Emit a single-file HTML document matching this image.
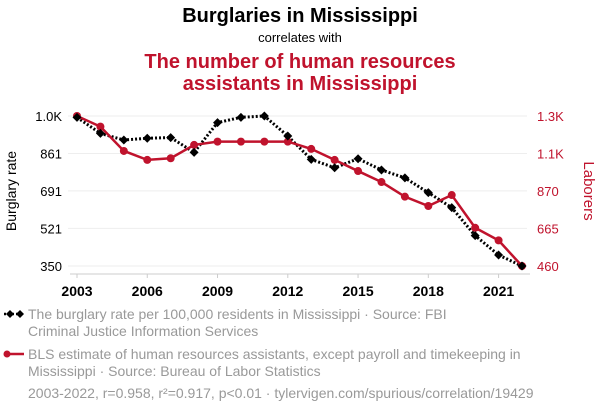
<!DOCTYPE html>
<html><head><meta charset="utf-8"><style>
body{margin:0;background:#fff;font-family:"Liberation Sans",sans-serif}
svg text{font-family:"Liberation Sans",sans-serif}
</style></head><body>
<svg width="600" height="414">
<text x="300" y="22" text-anchor="middle" font-size="20" font-weight="bold" fill="#000">Burglaries in Mississippi</text>
<text x="300" y="42" text-anchor="middle" font-size="13" fill="#000">correlates with</text>
<text x="300" y="68" text-anchor="middle" font-size="20" font-weight="bold" fill="#c0132d">The number of human resources</text>
<text x="300" y="90" text-anchor="middle" font-size="20" font-weight="bold" fill="#c0132d">assistants in Mississippi</text>
<g id="grid"></g><g id="axes"></g><g id="series"></g>
<text transform="translate(16,191) rotate(-90)" text-anchor="middle" font-size="14" fill="#000">Burglary rate</text>
<text transform="translate(584,191) rotate(90)" text-anchor="middle" font-size="15" fill="#c0132d">Laborers</text>
<g>
<line x1="4" y1="314" x2="24" y2="314" stroke="#000" stroke-width="2.5" stroke-dasharray="2,2"/>
<path d="M6 314 l4 -4 4 4 -4 4z" fill="#000"/><path d="M20 310 l4 4 -4 4 -4 -4z" fill="#000"/>
<text x="28" y="319" font-size="14" fill="#999">The burglary rate per 100,000 residents in Mississippi · Source: FBI</text>
<text x="28" y="336" font-size="14" fill="#999">Criminal Justice Information Services</text></g>
<g>
<line x1="4" y1="354" x2="24" y2="354" stroke="#c0132d" stroke-width="2.5"/>
<circle cx="7" cy="354" r="3.5" fill="#c0132d"/>
<text x="28" y="359" font-size="14" fill="#999">BLS estimate of human resources assistants, except payroll and timekeeping in</text>
<text x="28" y="376" font-size="14" fill="#999">Mississippi · Source: Bureau of Labor Statistics</text></g>
<text x="28" y="398" font-size="14" fill="#999">2003-2022, r=0.958, r²=0.917, p&lt;0.01 · tylervigen.com/spurious/correlation/19429</text>
</svg>
<script>
const years=[2003,2004,2005,2006,2007,2008,2009,2010,2011,2012,2013,2014,2015,2016,2017,2018,2019,2020,2021,2022];
const burglary=[1025,952,922,930,933,866,1001,1025,1031,940,834,796,837,786,750,683,615,488,400,350];
const laborers=[1280,1222,1089,1040,1049,1122,1140,1140,1140,1140,1100,1040,979,919,839,788,848,669,600,460];
const leftTicks=[350,521,691,861,1031];
const leftLabels=["350","521","691","861","1.0K"];
const rightTicks=[460,665,870,1075,1280];
const rightLabels=["460","665","870","1.1K","1.3K"];
const xTicks=[2003,2006,2009,2012,2015,2018,2021];
const NS="http://www.w3.org/2000/svg";
const x=v=>77+(v-2003)*(522-77)/19;
const yL=v=>266-(v-350)/(1031-350)*150;
const yR=v=>266-(v-460)/(1280-460)*150;
function mk(tag,at,parent){const e=document.createElementNS(NS,tag);for(const k in at)e.setAttribute(k,at[k]);document.getElementById(parent).appendChild(e);return e;}
leftTicks.forEach((t,i)=>{
 const g=mk('line',{x1:68,x2:527,y1:yL(t),y2:yL(t),stroke:'#eee','stroke-width':1},'grid');
 
 
 const l=mk('text',{x:62,y:yL(t)+5,'text-anchor':'end','font-size':13,fill:'#000'},'axes');l.textContent=leftLabels[i];
 
 
});
rightTicks.forEach((t,i)=>{
 const l=mk('text',{x:537,y:yR(t)+5,'font-size':13,fill:'#c0132d'},'axes');l.textContent=rightLabels[i];
 
 
});
const ax=mk('line',{x1:70,x2:530,y1:274,y2:274,stroke:'#ccc'},'axes');


xTicks.forEach(t=>{
 mk('line',{x1:x(t),x2:x(t),y1:274,y2:278,stroke:'#ccc'},'axes');
 const l=mk('text',{x:x(t),y:296,'text-anchor':'middle','font-size':14,'font-weight':'bold',fill:'#000'},'axes');l.textContent=t;
 
 
});
const pb=mk('polyline',{points:years.map((y,i)=>x(y)+','+yL(burglary[i])).join(' '),fill:'none',stroke:'#000','stroke-width':3,'stroke-dasharray':'2,2'},'series');


const pr=mk('polyline',{points:years.map((y,i)=>x(y)+','+yR(laborers[i])).join(' '),fill:'none',stroke:'#c0132d','stroke-width':2.5},'series');


years.forEach((y,i)=>{
 const c=mk('circle',{cx:x(y),cy:yR(laborers[i]),r:4,fill:'#c0132d'},'series');
 
 
});
years.forEach((y,i)=>{
 const X=x(y),Y=yL(burglary[i]);
 const d=mk('path',{d:`M${X-4.5} ${Y} L${X} ${Y-4.5} L${X+4.5} ${Y} L${X} ${Y+4.5}Z`,fill:'#000'},'series');
 
 
});
</script>
</body></html>
